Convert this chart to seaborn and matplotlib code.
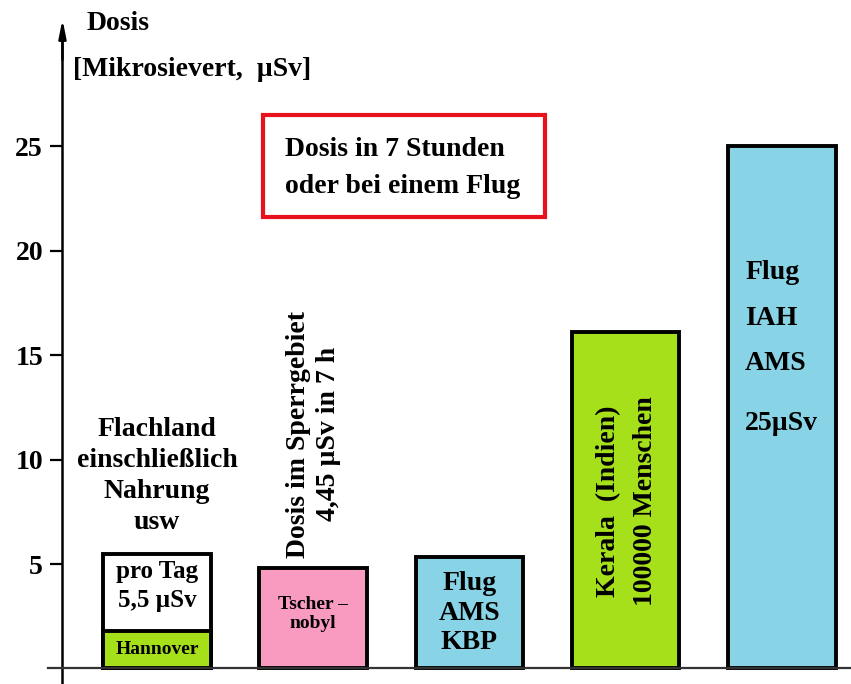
"""
Strahlendosis: Flachland, Sperrgebiet, Fluege und Kerala im Vergleich.
"""
import pandas as pd
import matplotlib
matplotlib.use("Agg")
import matplotlib.pyplot as plt
from matplotlib.patches import Rectangle
import seaborn as sns

# chart values
categories = ["Flachland", "Tschernobyl", "Flug AMS KBP", "Kerala", "Flug IAH AMS"]
dose = [5.5, 4.8, 5.35, 16.1, 25.0]
hannover_dose = [1.8]
bar_colors = ["#ffffff", "#f99bc1", "#88d3e6", "#a6e01a", "#88d3e6"]
green = "#a6e01a"
yticks = [5, 10, 15, 20, 25]

sns.set_theme(style="white")
plt.rcParams["font.family"] = ["Liberation Serif", "DejaVu Serif"]
plt.rcParams["font.weight"] = "bold"
plt.rcParams["text.color"] = "black"
plt.rcParams["ytick.color"] = "black"

W, H = 851, 684
fig = plt.figure(figsize=(W / 100, H / 100), dpi=100)
ax = fig.add_axes([0, 0, 1, 1])

def fx(px):
    return px / W

def fy(py):
    return 1 - py / H

df = pd.DataFrame({"cat": categories, "dose": dose})
sns.barplot(data=df, x="cat", y="dose", hue="cat", palette=bar_colors, order=categories,
            width=0.69, edgecolor="black", linewidth=2.8, saturation=1, legend=False, ax=ax)
# green Hannover part at the bottom of the first bar
sns.barplot(x=categories[:1], y=hannover_dose, order=categories, color=green,
            width=0.69, edgecolor="black", linewidth=2.8, saturation=1, ax=ax)

ax.set_xlim(-1.005, 4.443)
ax.set_ylim(-0.742, 31.99)
ax.set_xlabel("")
ax.set_ylabel("")
ax.set_xticks([])
ax.set_yticks(yticks)
ax.tick_params(axis="y", direction="out", length=9, width=1.6, pad=5, left=True,
               labelsize=20, labelcolor="black")
for lbl in ax.get_yticklabels():
    lbl.set_fontweight("bold")

for s in ["top", "right"]:
    ax.spines[s].set_visible(False)
ax.spines["left"].set_position(("data", -0.605))
ax.spines["left"].set_bounds(-0.7, 30.5)
ax.spines["left"].set_linewidth(1.8)
ax.spines["left"].set_color("black")
ax.spines["bottom"].set_position(("data", 0))
ax.spines["bottom"].set_bounds(-0.7, 4.443)
ax.spines["bottom"].set_linewidth(1.6)
ax.spines["bottom"].set_color("#333333")
ax.annotate("", xy=(-0.605, 31.2), xytext=(-0.605, 29.0),
            arrowprops=dict(arrowstyle="-|>,head_length=0.9,head_width=0.18",
                            color="black", lw=1.8))

# axis title
fig.text(fx(87), fy(23), "Dosis", fontsize=20, fontweight="bold", ha="left", va="center")
fig.text(fx(73), fy(70), "[Mikrosievert,  µSv]", fontsize=20, fontweight="bold",
         ha="left", va="center")

# red framed note
ax.add_patch(Rectangle((fx(263), fy(217)), fx(545) - fx(263), fy(115) - fy(217),
                       transform=ax.transAxes, fill=False, edgecolor="#e8121c", lw=3))
fig.text(fx(285), fy(168), "Dosis in 7 Stunden\noder bei einem Flug", fontsize=20,
         fontweight="bold", ha="left", va="center", linespacing=1.6)

# bar labels
ax.text(0, 9.2, "Flachland\neinschließlich\nNahrung\nusw", fontsize=20, fontweight="bold",
        ha="center", va="center", linespacing=1.32)
ax.text(0, 3.95, "pro Tag\n5,5 µSv", fontsize=18, fontweight="bold",
        ha="center", va="center", linespacing=1.3)
ax.text(0, 0.9, "Hannover", fontsize=14, fontweight="bold", ha="center", va="center")

ax.text(1, 2.6, "Tscher –\nnobyl", fontsize=14, fontweight="bold",
        ha="center", va="center", linespacing=1.15)
ax.text(1, 5.3, "Dosis im Sperrgebiet\n4,45 µSv in 7 h", fontsize=20, fontweight="bold",
        rotation=90, ha="center", va="bottom", linespacing=1.25)

ax.text(2, 2.65, "Flug\nAMS\nKBP", fontsize=20, fontweight="bold",
        ha="center", va="center", linespacing=1.25)

ax.text(3.01, 8.0, "Kerala  (Indien)\n100000 Menschen", fontsize=20,
        fontweight="bold", rotation=90, ha="center", va="center", linespacing=1.65)

for label, yv in zip(["Flug", "IAH", "AMS", "25µSv"], [18.95, 16.75, 14.6, 11.7]):
    ax.text(3.765, yv, label, fontsize=20, fontweight="bold", ha="left", va="center")

fig.savefig("out.png", dpi=100, facecolor="white")
